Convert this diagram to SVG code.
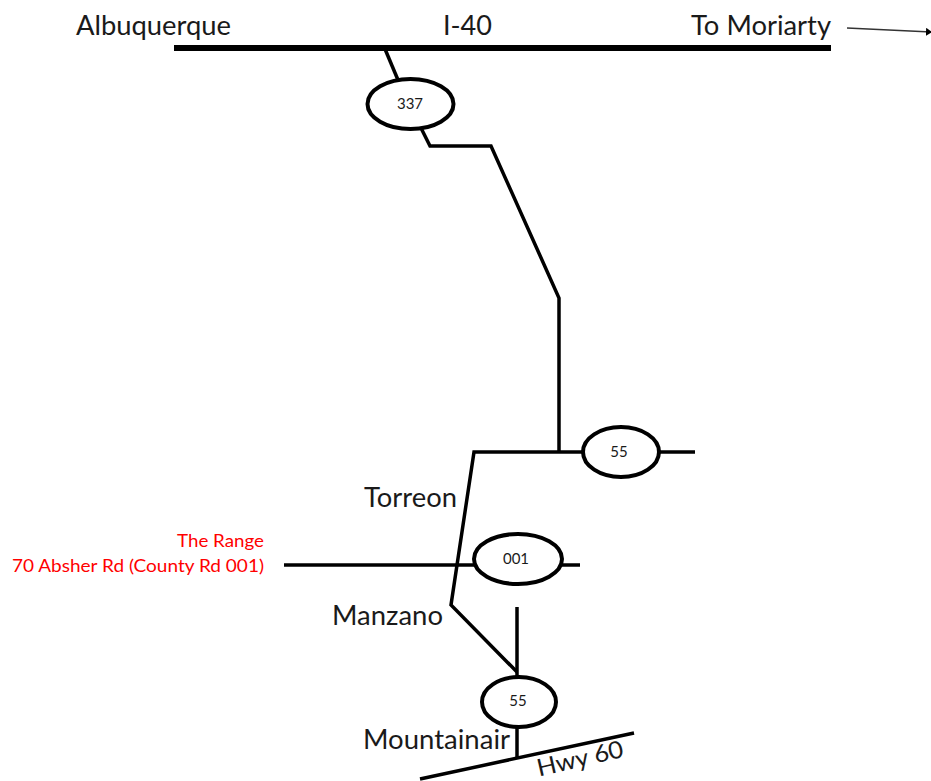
<svg xmlns="http://www.w3.org/2000/svg" width="931" height="781" viewBox="0 0 931 781">
<style>
text{font-family:Lato,"Open Sans",sans-serif;fill:#1a1a1a}
.l{font-size:27px}
.h{font-size:24px}
.s{font-size:15px}
.r{font-size:18px;fill:#ff0000}
.road{fill:none;stroke:#000;stroke-width:3.5}
.node{fill:#fff;stroke:#000;stroke-width:4}
</style>
<defs><marker id="a" markerWidth="6" markerHeight="8" refX="5" refY="4" orient="auto" markerUnits="userSpaceOnUse"><path d="M0 0L6 4L0 8Z" fill="#000"/></marker></defs>
<rect width="931" height="781" fill="#fff"/>
<g id="connectors">
<path d="M174 48H831" fill="none" stroke="#000" stroke-width="6"/>
<path d="M847 28L931 32" fill="none" stroke="#333" stroke-width="1.5" marker-end="url(#a)"/>
<path class="road" d="M385 49L398 80"/>
<path class="road" d="M421 128L430 146H491L559 298V452"/>
<path class="road" d="M695 452H474L451 605L517 672"/>
<path class="road" d="M284 565H580"/>
<path class="road" d="M517 607V678"/>
<path class="road" d="M517 725V757"/>
<path class="road" d="M420 779L634 733"/>
</g>
<g id="node-337"><ellipse class="node" cx="410.5" cy="104" rx="43" ry="25"/><text class="s" x="410" y="109" text-anchor="middle">337</text></g>
<g id="node-55a"><ellipse class="node" cx="621" cy="452" rx="38" ry="25"/><text class="s" x="619" y="457" text-anchor="middle">55</text></g>
<g id="node-001"><ellipse class="node" cx="518" cy="559" rx="44" ry="25"/><text class="s" x="516" y="564" text-anchor="middle">001</text></g>
<g id="node-55b"><ellipse class="node" cx="519" cy="702" rx="37" ry="25"/><text class="s" x="518" y="706" text-anchor="middle">55</text></g>
<g id="labels">
<text class="l" x="76" y="35" textLength="155" lengthAdjust="spacingAndGlyphs">Albuquerque</text>
<text class="l" x="443" y="35" textLength="49" lengthAdjust="spacingAndGlyphs">I-40</text>
<text class="l" x="691" y="35" textLength="140" lengthAdjust="spacingAndGlyphs">To Moriarty</text>
<text class="l" x="364" y="507" textLength="93" lengthAdjust="spacingAndGlyphs">Torreon</text>
<text class="l" x="332" y="625" textLength="111" lengthAdjust="spacingAndGlyphs">Manzano</text>
<text class="l" x="363" y="749" textLength="147" lengthAdjust="spacingAndGlyphs">Mountainair</text>
<text class="h" transform="translate(539 776.5) rotate(-13)" textLength="88" lengthAdjust="spacingAndGlyphs">Hwy 60</text>
<text class="r" x="177" y="547" textLength="87" lengthAdjust="spacingAndGlyphs">The Range</text>
<text class="r" x="12" y="572" textLength="252" lengthAdjust="spacingAndGlyphs">70 Absher Rd (County Rd 001)</text>
</g>
</svg>
